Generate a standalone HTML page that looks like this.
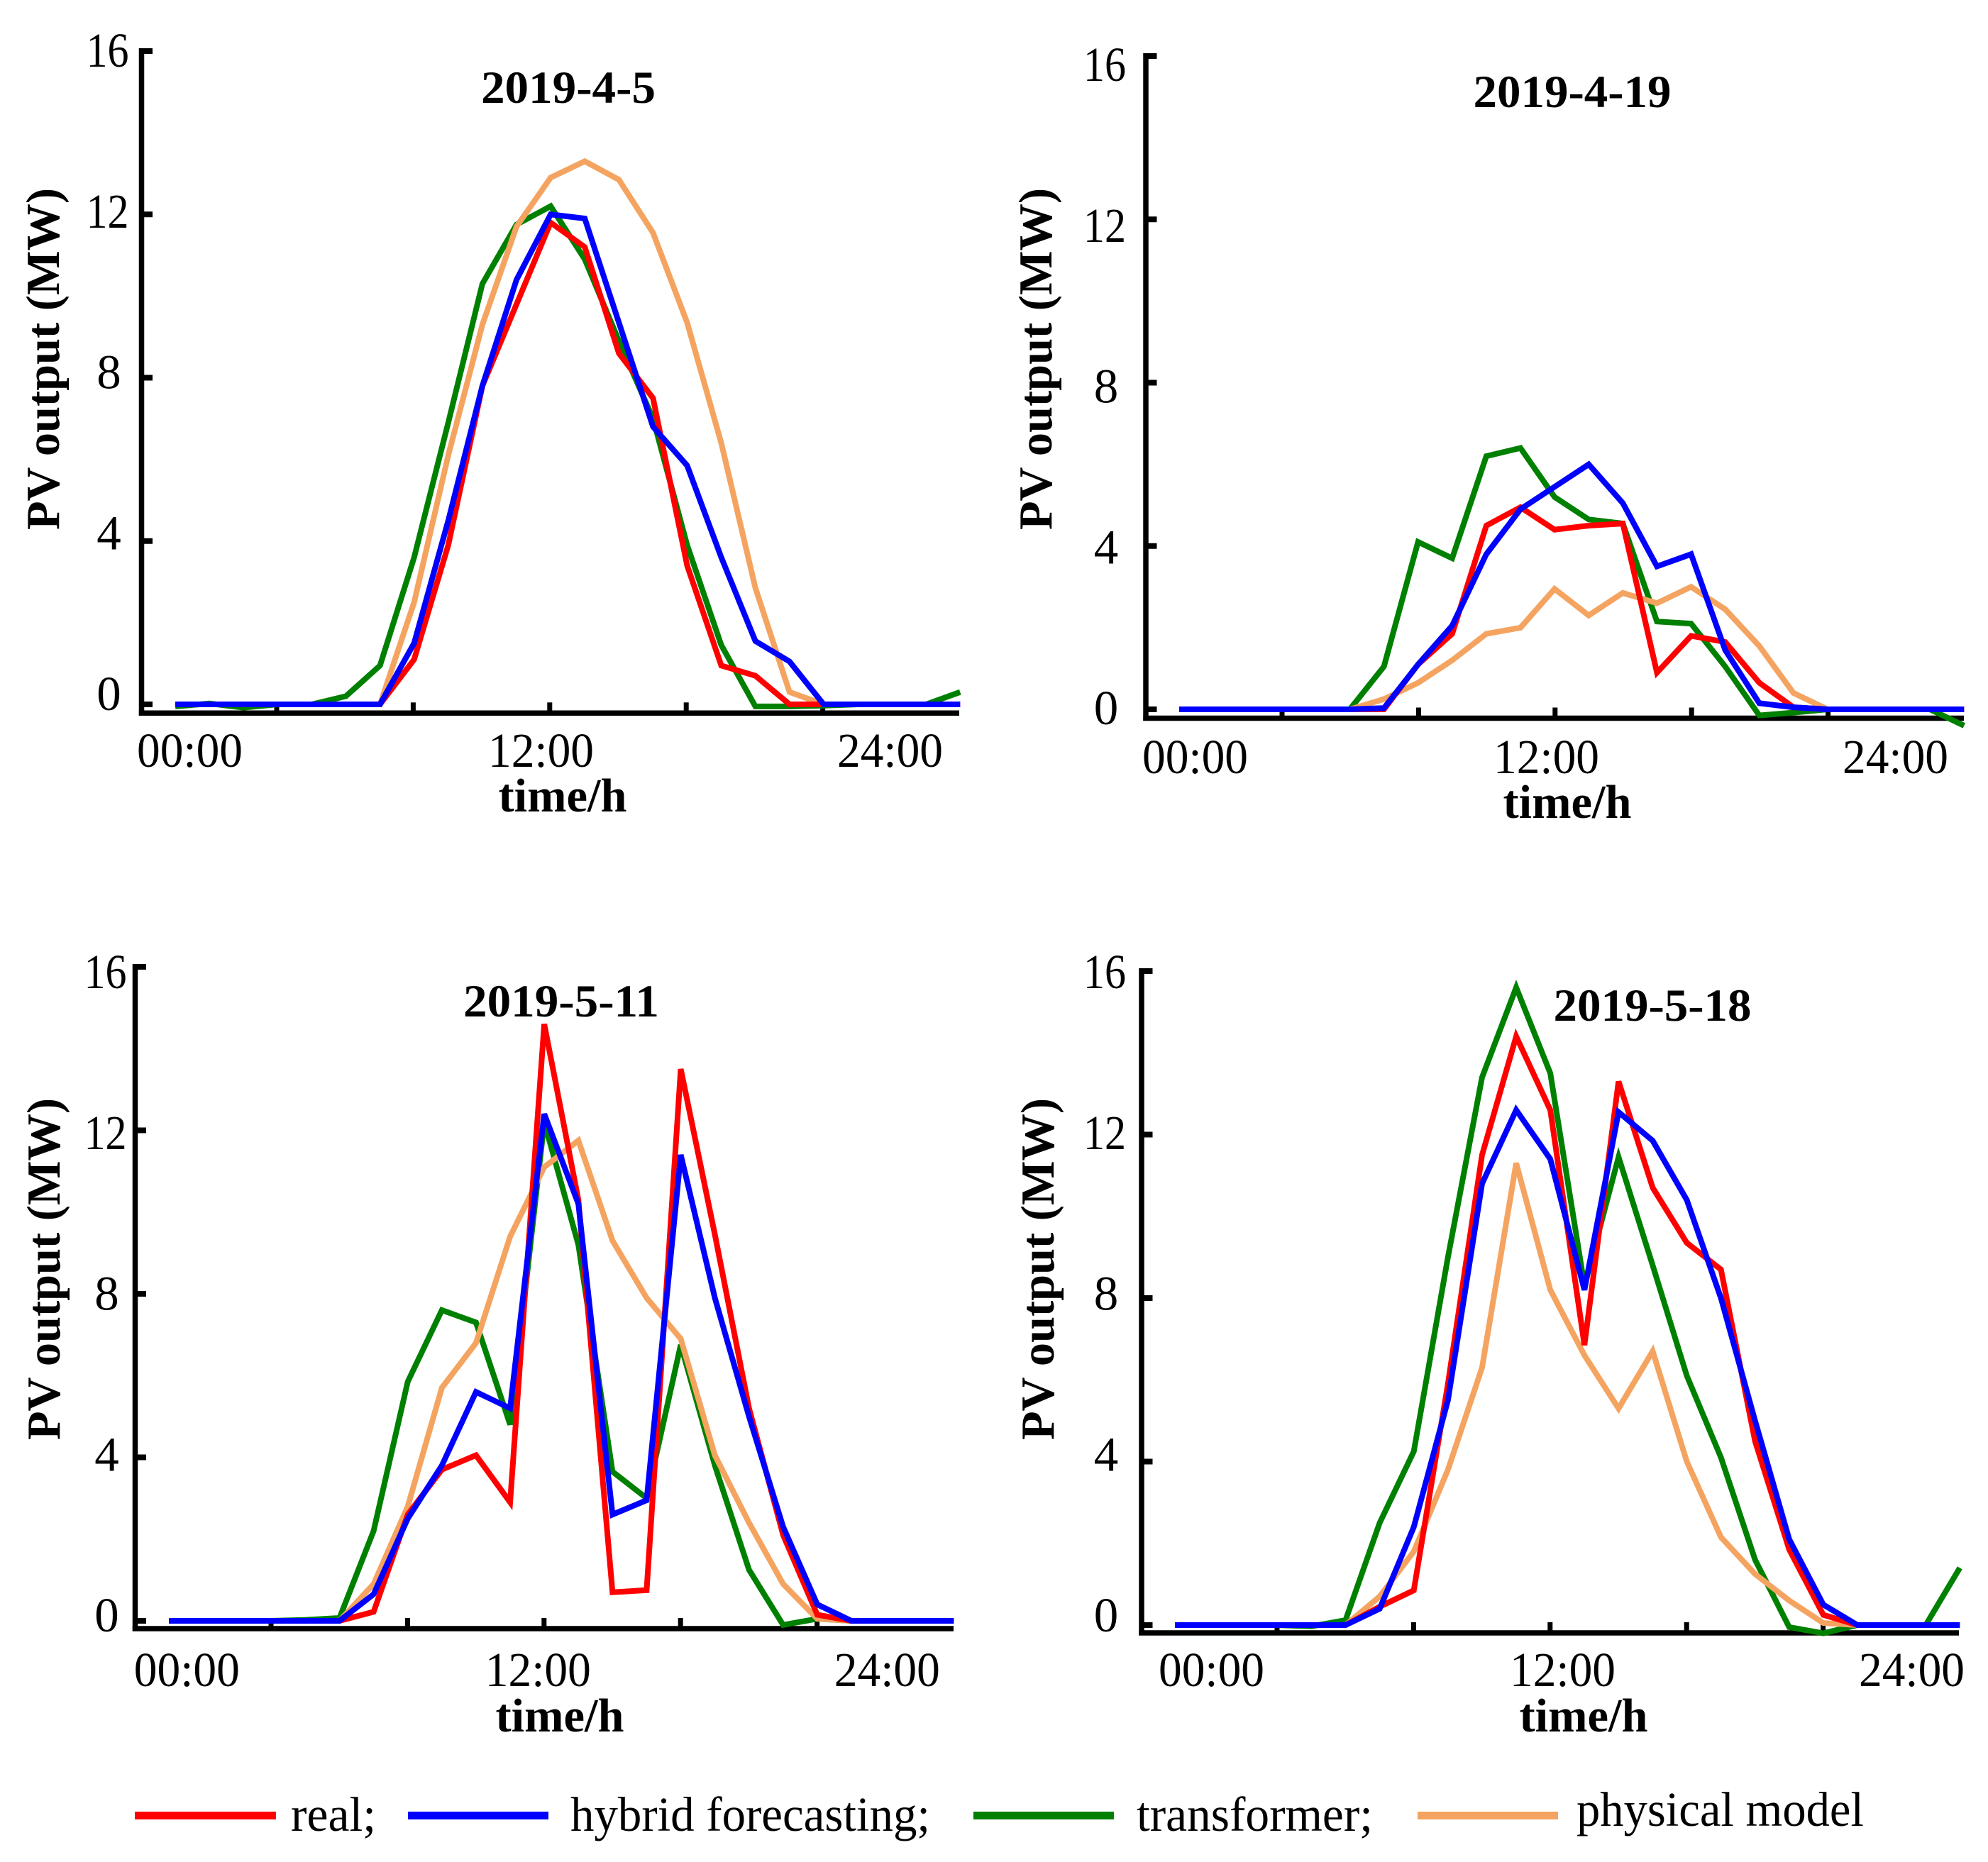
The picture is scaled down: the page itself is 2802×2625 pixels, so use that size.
<!DOCTYPE html>
<html lang="en">
<head>
<meta charset="utf-8">
<title>PV output forecasts</title>
<style>
html,body{margin:0;padding:0;background:#fff;}
svg{display:block;}
text{font-family:"Liberation Serif",serif;fill:#000;}
</style>
</head>
<body>
<svg id="figure" xmlns="http://www.w3.org/2000/svg" width="2802" height="2625" viewBox="0 0 2802 2625">
  <rect x="0" y="0" width="2802" height="2625" fill="#fff"/>
  <g id="panels"></g>
  <g id="legend">
    <g>
      <line x1="190" x2="389" y1="2559.5" y2="2559.5" stroke="#ff0000" stroke-width="11"/>
      <text x="410" y="2581" font-size="69" textLength="120" lengthAdjust="spacingAndGlyphs">real;</text>
    </g>
    <g>
      <line x1="575" x2="773" y1="2559.5" y2="2559.5" stroke="#0000ff" stroke-width="11"/>
      <text x="804" y="2581" font-size="69" textLength="507" lengthAdjust="spacingAndGlyphs">hybrid forecasting;</text>
    </g>
    <g>
      <line x1="1372" x2="1570" y1="2559.5" y2="2559.5" stroke="#008000" stroke-width="11"/>
      <text x="1602" y="2581" font-size="69" textLength="333" lengthAdjust="spacingAndGlyphs">transformer;</text>
    </g>
    <g>
      <line x1="1998" x2="2196" y1="2559.5" y2="2559.5" stroke="#f4a460" stroke-width="11"/>
      <text x="2222" y="2574" font-size="69" textLength="405" lengthAdjust="spacingAndGlyphs">physical model</text>
    </g>
  </g>
</svg>
<script>
// Chart values (MW), one entry per time step
var yTickValues = [0, 4, 8, 12, 16];
var xTickLabels = ['00:00', '12:00', '24:00'];
var xMarkSteps = [3, 7, 11, 15, 19];

var real1 = [0,0,0,0,0,0,0,1.1,3.9,7.8,9.8,11.8,11.2,8.6,7.5,3.4,0.95,0.7,0,0,0,0,0,0];
var hybrid1 = [0,0,0,0,0,0,0,1.5,4.5,7.8,10.4,12,11.9,9.35,6.8,5.85,3.6,1.55,1.05,0,0,0,0,0];
var transformer1 = [-0.05,0.02,-0.08,0,0,0.2,0.95,3.6,6.9,10.3,11.75,12.2,10.9,8.9,7,3.9,1.45,-0.05,-0.05,-0.03,0,0,0,0.3];
var physical1 = [0,0,0,0,0,0,0,2.5,6.1,9.3,11.7,12.9,13.3,12.85,11.55,9.35,6.4,2.85,0.3,0,0,0,0,0];

var real2 = [0,0,0,0,0,0,0,1.1,1.85,4.5,4.95,4.4,4.5,4.55,0.9,1.8,1.65,0.65,0.05,0,0,0,0,0];
var hybrid2 = [0,0,0,0,0,0,0.03,1.1,2.05,3.8,4.9,5.45,6,5.05,3.5,3.8,1.45,0.15,0.05,0,0,0,0,0];
var transformer2 = [0,0,0,0,0,0,1.05,4.1,3.7,6.2,6.4,5.2,4.65,4.55,2.15,2.1,1.05,-0.15,-0.08,0,0,0,0,-0.4];
var physical2 = [0,0,0,0,0,0,0.25,0.65,1.2,1.85,2,2.95,2.3,2.85,2.6,3,2.45,1.55,0.4,0,0,0,0,0];

var real3 = [0,0,0,0,0,0,0.22,2.6,3.7,4.05,2.9,14.6,10.3,0.7,0.75,13.5,9.45,5.2,2.1,0.15,0,0,0,0];
var hybrid3 = [0,0,0,0,0,0,0.65,2.5,3.8,5.6,5.2,12.4,10.2,2.6,2.95,11.4,7.9,5,2.3,0.4,0,0,0,0];
var transformer3 = [0,0,0,0,0.02,0.07,2.2,5.85,7.6,7.3,4.8,12.2,9.2,3.65,3,6.75,3.8,1.25,-0.1,0.05,0,0,0,0];
var physical3 = [0,0,0,0,0,0,0.9,2.8,5.7,6.8,9.4,11.1,11.75,9.3,7.9,6.9,4.05,2.4,0.9,0.05,0,0,0,0];

var real4 = [0,0,0,0,0,0,0.45,0.85,5.9,11.5,14.4,12.6,6.85,13.3,10.7,9.35,8.7,4.5,1.85,0.25,0,0,0,0];
var hybrid4 = [0,0,0,0,0,0,0.4,2.4,5.5,10.8,12.6,11.4,8.2,12.55,11.85,10.4,8,5,2.1,0.5,0,0,0,0];
var transformer4 = [0,0,0,0,-0.03,0.12,2.5,4.25,9,13.4,15.6,13.5,8.3,11.45,8.8,6.1,4.1,1.6,-0.05,-0.2,0,0,0,1.4];
var physical4 = [0,0,0,0,0,0,0.7,1.8,3.8,6.3,11.3,8.2,6.6,5.3,6.7,4,2.15,1.25,0.6,0.05,0,0,0,0];

var panels = [
  {key:'2019-4-5', real:real1, hybrid:hybrid1, transformer:transformer1, physical:physical1,
   axisX:199.5, top:72, zero:993, base:1005.3, right:1352, x0:247, tick0:390,
   yLabX:151.5, yLabTop:94, yLabZero:1001, xLabStart:267.5, xLabBase:1081,
   titleX:801, titleY:145, titleW:246, timeX:793, timeY:1144, yTitleX:83, yTitleY:506},
  {key:'2019-4-19', real:real2, hybrid:hybrid2, transformer:transformer2, physical:physical2,
   axisX:1615, top:79, zero:1000, base:1012.5, right:2768, x0:1662, tick0:1807,
   yLabX:1557, yLabTop:114, yLabZero:1021, xLabStart:1684.5, xLabBase:1090,
   titleX:2216, titleY:151, titleW:279, timeX:2209, timeY:1153, yTitleX:1482, yTitleY:506},
  {key:'2019-5-11', real:real3, hybrid:hybrid3, transformer:transformer3, physical:physical3,
   axisX:190.5, top:1363, zero:2285, base:2296, right:1344, x0:238, tick0:382,
   yLabX:148.5, yLabTop:1393, yLabZero:2300, xLabStart:263.3, xLabBase:2377,
   titleX:791, titleY:1433, titleW:276, timeX:789, timeY:2441, yTitleX:84, yTitleY:1789},
  {key:'2019-5-18', real:real4, hybrid:hybrid4, transformer:transformer4, physical:physical4,
   axisX:1609, top:1369, zero:2291, base:2302, right:2761, x0:1656, tick0:1800,
   yLabX:1557, yLabTop:1393, yLabZero:2300, xLabStart:1707.5, xLabBase:2377,
   titleX:2329, titleY:1439, titleW:279, timeX:2232, timeY:2441, yTitleX:1485, yTitleY:1789}
];

var seriesOrder = [
  {field:'transformer', color:'#008000'},
  {field:'physical', color:'#f4a460'},
  {field:'real', color:'#ff0000'},
  {field:'hybrid', color:'#0000ff'}
];

var STEP = 48.1;
var X_LABEL_OFFSETS = [0, 495, 987];
var NS = 'http://www.w3.org/2000/svg';
var root = document.getElementById('panels');

function makeLine(parent, name, x1, y1, x2, y2, width) {
  var el = document.createElementNS(NS, 'line');
  
  
  el.setAttribute('x1', x1);
  el.setAttribute('y1', y1);
  el.setAttribute('x2', x2);
  el.setAttribute('y2', y2);
  el.setAttribute('stroke', '#000');
  el.setAttribute('stroke-width', width);
  parent.appendChild(el);
  return el;
}

function makeText(parent, name, str, x, y, size, opts) {
  var el = document.createElementNS(NS, 'text');
  
  
  el.setAttribute('x', x);
  el.setAttribute('y', y);
  el.setAttribute('font-size', size);
  el.setAttribute('text-anchor', opts.anchor || 'middle');
  if (opts.bold) { el.setAttribute('font-weight', 'bold'); }
  if (opts.length) {
    el.setAttribute('textLength', opts.length);
    el.setAttribute('lengthAdjust', 'spacingAndGlyphs');
  }
  if (opts.transform) { el.setAttribute('transform', opts.transform); }
  el.textContent = str;
  parent.appendChild(el);
  return el;
}

panels.forEach(function (p) {
  function xScale(i) { return p.x0 + i * STEP; }
  function yScale(v) { return p.zero - (v / 16) * (p.zero - p.top); }
  function yLabelBase(v) { return p.yLabZero - (v / 16) * (p.yLabZero - p.yLabTop); }
  function xTick(step) { return p.tick0 + (step - xMarkSteps[0]) * STEP; }

  var g = document.createElementNS(NS, 'g');
  
  
  root.appendChild(g);

  // axes
  makeLine(g, 'y-axis-line', p.axisX, p.top - 4, p.axisX, p.base + 3.5, 7.5);
  makeLine(g, 'x-axis-line', p.axisX - 3.7, p.base, p.right, p.base, 7.5);

  yTickValues.forEach(function (v) {
    var wide = String(v).length > 1;
    makeLine(g, 'y-tick-' + v, p.axisX, yScale(v), p.axisX + 15.5, yScale(v), 8);
    makeText(g, 'y-tick-label-' + v, String(v), p.yLabX + (wide ? 0 : 2), yLabelBase(v), 69, {length: wide ? 60 : 0});
  });

  xMarkSteps.forEach(function (s) {
    makeLine(g, 'x-tick-' + s, xTick(s), p.base, xTick(s), p.base - 15, 7);
  });

  xTickLabels.forEach(function (label, k) {
    makeText(g, 'x-tick-label-' + label, label, p.xLabStart + X_LABEL_OFFSETS[k], p.xLabBase, 69, {length: 149});
  });

  // series
  seriesOrder.forEach(function (s) {
    var values = p[s.field];
    var pts = values.map(function (v, i) {
      return xScale(i).toFixed(1) + ',' + yScale(v).toFixed(1);
    }).join(' ');
    var line = document.createElementNS(NS, 'polyline');
    
    
    line.setAttribute('points', pts);
    line.setAttribute('fill', 'none');
    line.setAttribute('stroke', s.color);
    line.setAttribute('stroke-width', '8');
    line.setAttribute('stroke-linejoin', 'miter');
    g.appendChild(line);
  });

  // titles
  makeText(g, 'chart-title', p.key, p.titleX, p.titleY, 65, {bold: true, length: p.titleW});
  makeText(g, 'x-axis-title', 'time/h', p.timeX, p.timeY, 67, {bold: true, length: 181});
  makeText(g, 'y-axis-title', 'PV output (MW)', 0, 0, 67, {
    bold: true,
    length: 482,
    transform: 'translate(' + p.yTitleX + ',' + p.yTitleY + ') rotate(-90)'
  });
});
</script>
</body>
</html>
